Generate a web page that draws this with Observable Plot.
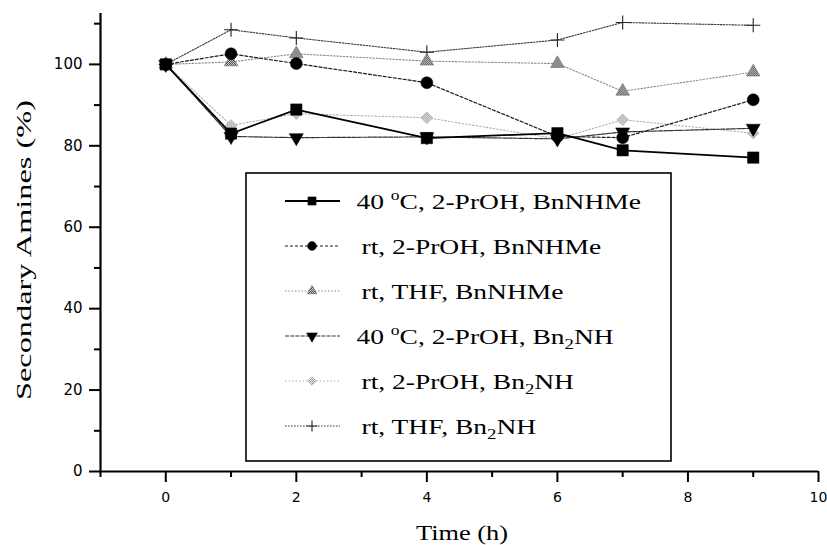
<!DOCTYPE html>
<html><head><meta charset="utf-8">
<script src="https://cdn.jsdelivr.net/npm/d3@7"></script>
<script src="https://cdn.jsdelivr.net/npm/@observablehq/plot@0.6"></script>
<style>body{margin:0;background:#fff} #chart{width:827px;height:545px}</style>
</head><body><div id="chart"></div>
<script>
// ---- data ----
const times = [0, 1, 2, 4, 6, 7, 9];
const seriesNames = [
  "40 oC, 2-PrOH, BnNHMe",
  "rt, 2-PrOH, BnNHMe",
  "rt, THF, BnNHMe",
  "40 oC, 2-PrOH, Bn2NH",
  "rt, 2-PrOH, Bn2NH",
  "rt, THF, Bn2NH"
];
const hot_PrOH_BnNHMe = [100, 83.0, 88.9, 81.9, 83.1, 78.9, 77.1];
const rt_PrOH_BnNHMe  = [100, 102.6, 100.2, 95.5, 82.3, 82.0, 91.3];
const rt_THF_BnNHMe   = [100, 100.6, 102.6, 100.8, 100.2, 93.4, 98.1];
const hot_PrOH_Bn2NH  = [100, 82.3, 82.0, 82.2, 81.7, 83.4, 84.3];
const rt_PrOH_Bn2NH   = [100, 85.0, 87.9, 86.9, 81.7, 86.4, 83.1];
const rt_THF_Bn2NH    = [100, 108.5, 106.5, 103.0, 106.0, 110.3, 109.6];
const yMajorTicks = [0, 20, 40, 60, 80, 100];
const yMinorTicks = [10, 30, 50, 70, 90, 110];
const xMajorTicks = [0, 2, 4, 6, 8, 10];
const xMinorTicks = [-1, 1, 3, 5, 7, 9];

const seriesValues = [hot_PrOH_BnNHMe, rt_PrOH_BnNHMe, rt_THF_BnNHMe, hot_PrOH_Bn2NH, rt_PrOH_Bn2NH, rt_THF_Bn2NH];

// ---- styles ----
const triangleDown = {
  draw(context, size) {
    const s3 = Math.sqrt(3);
    const y = Math.sqrt(size / (s3 * 3));
    context.moveTo(0, y * 2);
    context.lineTo(-s3 * y, -y);
    context.lineTo(s3 * y, -y);
    context.closePath();
  }
};
const styles = [
  {symbol: "square",   r: 6.4, lr: 4.6, fill: "#000", mstroke: "#000", mw: 0.5, line: "#000", dash: null, lw: 1.8},
  {symbol: "circle",   r: 6.0, lr: 4.4, fill: "#000", mstroke: "#000", mw: 0.5, line: "#1a1a1a", dash: "3,2", lw: 1.2},
  {symbol: "triangle", r: 5.0, lr: 3.6, fill: "url(#hdark)", mstroke: "#666", mw: 0.6, line: "#8a8a8a", dash: "1.5,1.8", lw: 1.1},
  {symbol: triangleDown, r: 5.2, lr: 4.0, fill: "#000", mstroke: "#000", mw: 0.5, line: "#333", dash: "4,1.2", lw: 1.2},
  {symbol: "diamond2", r: 5.2, lr: 3.8, fill: "url(#hlight)", mstroke: "#999", mw: 0.6, line: "#b0b0b0", dash: "1.5,2", lw: 1.1},
  {symbol: "plus",     r: 4.6, lr: 3.6, fill: "none", mstroke: "#222", mw: 1.1, line: "#3a3a3a", dash: "1.6,1.4", lw: 1.1}
];

const tables = seriesValues.map((vals, i) => times.map((t, j) => ({t, v: vals[j], s: seriesNames[i]})));

const drawOrder = [5, 4, 2, 1, 3, 0];
const marks = [];
for (const i of drawOrder) {
  const st = styles[i];
  marks.push(Plot.line(tables[i], {x: "t", y: "v", stroke: st.line, strokeWidth: st.lw, strokeDasharray: st.dash ?? undefined}));
}
for (const i of drawOrder) {
  const st = styles[i];
  marks.push(Plot.dot(tables[i], {x: "t", y: "v", symbol: st.symbol, r: st.r, fill: st.fill, stroke: st.mstroke, strokeWidth: st.mw}));
}

const chart = Plot.plot({
  width: 827, height: 545,
  marginLeft: 100, marginRight: 9, marginTop: 13, marginBottom: 74,
  style: {fontFamily: "DejaVu Sans", fontSize: "14px", color: "#000", background: "#fff", overflow: "visible"},
  x: {domain: [-1, 10]},
  y: {domain: [0, 112.5]},
  marks: [
    Plot.axisY({ticks: yMajorTicks, tickSize: 11, tickPadding: 7, strokeWidth: 2, tickFormat: d => String(d), label: null, fontSize: 15}),
    Plot.axisY({ticks: yMinorTicks, tickSize: 6, strokeWidth: 2, tickFormat: () => "", label: null}),
    Plot.axisX({ticks: xMajorTicks, tickSize: 11, tickPadding: 10, strokeWidth: 2, tickFormat: d => String(d), label: null}),
    Plot.axisX({ticks: xMinorTicks, tickSize: 6, strokeWidth: 2, tickFormat: () => "", label: null}),
    Plot.ruleX([-1], {strokeWidth: 2.2}),
    Plot.ruleY([0], {strokeWidth: 2.2}),
    ...marks
  ]
});
document.getElementById("chart").appendChild(chart);

// ---- patterns, titles, legend ----
const svg = d3.select(chart);
const defs = svg.insert("defs", ":first-child");
const pd = defs.append("pattern").attr("id", "hdark").attr("width", 2).attr("height", 2).attr("patternUnits", "userSpaceOnUse");
pd.append("rect").attr("width", 2).attr("height", 2).attr("fill", "#d8d8d8");
pd.append("rect").attr("width", 1).attr("height", 1).attr("fill", "#444");
pd.append("rect").attr("x", 1).attr("y", 1).attr("width", 1).attr("height", 1).attr("fill", "#444");
const pl = defs.append("pattern").attr("id", "hlight").attr("width", 2).attr("height", 2).attr("patternUnits", "userSpaceOnUse");
pl.append("rect").attr("width", 2).attr("height", 2).attr("fill", "#f0f0f0");
pl.append("rect").attr("width", 1).attr("height", 1).attr("fill", "#888");
pl.append("rect").attr("x", 1).attr("y", 1).attr("width", 1).attr("height", 1).attr("fill", "#aaa");

const serif = "'Liberation Serif', 'Times New Roman', serif";
svg.append("text").attr("x", 462).attr("y", 540).attr("text-anchor", "middle")
  .attr("font-family", serif).attr("font-size", 21).attr("fill", "#000")
  .attr("textLength", 92).attr("lengthAdjust", "spacingAndGlyphs").text("Time (h)");
svg.append("text").attr("transform", "translate(31,250) rotate(-90)").attr("text-anchor", "middle")
  .attr("font-family", serif).attr("font-size", 22).attr("fill", "#000")
  .attr("textLength", 300).attr("lengthAdjust", "spacingAndGlyphs").text("Secondary Amines (%)");

const lg = svg.append("g").attr("text-anchor", "start");
lg.append("rect").attr("x", 246).attr("y", 173).attr("width", 425).attr("height", 288)
  .attr("fill", "#fff").attr("stroke", "#000").attr("stroke-width", 1.6);
const rowY = [201, 246, 291, 336, 381, 426];
const symbolMap = {square: d3.symbolSquare, circle: d3.symbolCircle, triangle: d3.symbolTriangle, diamond2: d3.symbolDiamond2, plus: d3.symbolPlus};
seriesNames.forEach((name, i) => {
  const st = styles[i];
  const y = rowY[i];
  lg.append("line").attr("x1", 285).attr("x2", 340).attr("y1", y).attr("y2", y)
    .attr("stroke", st.line).attr("stroke-width", st.lw).attr("stroke-dasharray", st.dash);
  const sym = typeof st.symbol === "string" ? symbolMap[st.symbol] : st.symbol;
  lg.append("path").attr("transform", `translate(312,${y})`)
    .attr("d", d3.symbol(sym, st.lr * st.lr * Math.PI)())
    .attr("fill", st.fill).attr("stroke", st.mstroke).attr("stroke-width", st.mw);
  const hot = name.startsWith("40");
  const t = lg.append("text").attr("text-anchor", "start")
    .attr("transform", `translate(${hot ? 356.5 : 361.5},${y + 7.5}) scale(1.25,1)`)
    .attr("font-family", serif).attr("font-size", 22).attr("fill", "#000");
  let rest = name;
  let cur = t;
  if (hot) {
    t.append("tspan").text("40 ");
    t.append("tspan").attr("font-size", 14).attr("dy", -9).text("o");
    rest = name.slice(4);
  }
  const dy0 = hot ? 9 : 0;
  if (rest.includes("Bn2")) {
    const [a, b] = rest.split("Bn2");
    t.append("tspan").attr("dy", dy0).text(a + "Bn");
    t.append("tspan").attr("font-size", 15).attr("dy", 5).text("2");
    t.append("tspan").attr("dy", -5).text(b);
  } else {
    t.append("tspan").attr("dy", dy0).text(rest);
  }
});
</script></body></html>
